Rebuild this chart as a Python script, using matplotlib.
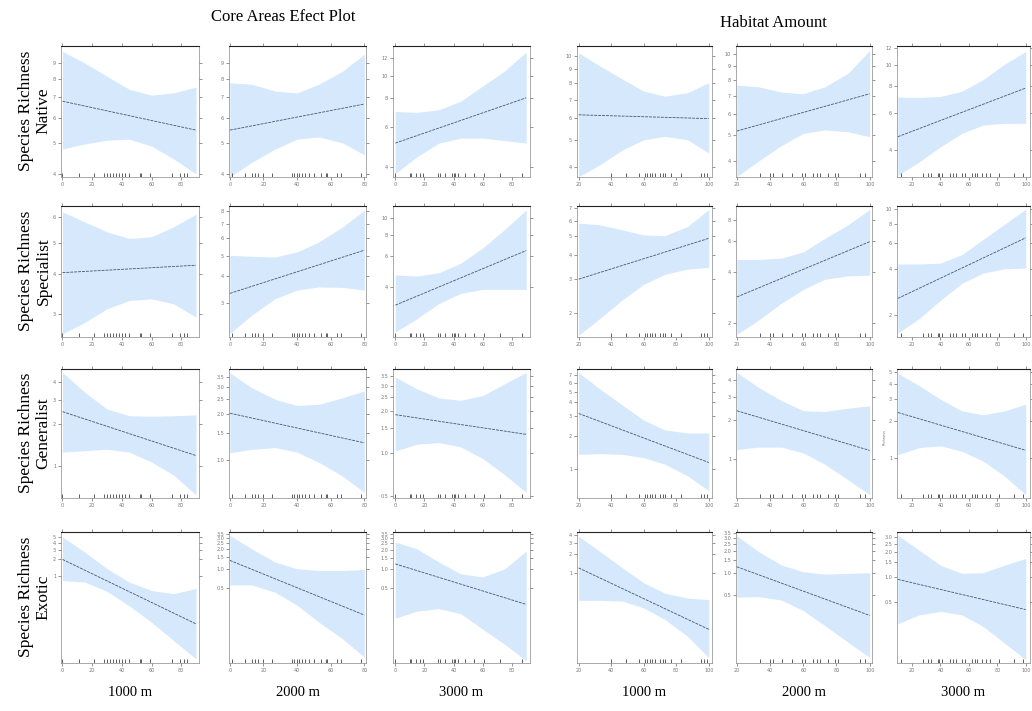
import numpy as np
import matplotlib
matplotlib.use('Agg')
import matplotlib.pyplot as plt
from matplotlib.ticker import NullLocator, FixedLocator, FixedFormatter

# ---------------- data ----------------
ROW_NAMES = ["Species Richness\nNative", "Species Richness\nSpecialist",
             "Species Richness\nGeneralist", "Species Richness\nExotic"]
COL_NAMES = ["1000 m", "2000 m", "3000 m", "1000 m", "2000 m", "3000 m"]
GROUP_TITLES = ["Core Areas Efect Plot", "Habitat Amount"]

BAND_X = [[0, 15, 30, 45, 60, 75, 90],
          [0, 13, 27, 40, 53, 67, 80],
          [0, 15, 30, 45, 60, 75, 90],
          [20, 33, 47, 60, 73, 87, 100],
          [20, 33, 47, 60, 73, 87, 100],
          [10, 25, 40, 55, 70, 85, 100]]
XTICKS = [[0, 20, 40, 60, 80], [0, 20, 40, 60, 80], [0, 20, 40, 60, 80],
          [20, 40, 60, 80, 100], [20, 40, 60, 80, 100], [20, 40, 60, 80, 100]]
XLIM = [(-1, 92), (-0.5, 81), (-1.6, 92.6), (19, 102), (19.5, 101.4), (9.4, 103)]
RUG = [[0, 11, 21, 28, 30, 32, 34, 36, 38, 40, 42, 45, 52, 53, 59, 74, 79, 82, 84],
       [1, 9, 13, 15, 17, 20, 25, 37, 38, 40, 41, 43, 45, 47, 50, 54, 57, 58, 64, 66, 78],
       [0, 10, 11, 14, 17, 19, 29, 31, 34, 39, 40, 41, 43, 48, 54, 61, 72, 87],
       [40, 49, 57, 61, 62, 64, 65, 67, 70, 72, 73, 77, 83, 95, 97, 99],
       [34, 40, 42, 47, 53, 59, 61, 66, 68, 70, 75, 79, 81, 94, 97],
       [12, 28, 31, 33, 38, 39, 41, 47, 49, 51, 55, 57, 62, 64, 66, 69, 72, 75, 81, 92, 98]]

# Native
NATIVE_YLIM = [(3.91, 10.2), (3.91, 10.2), (3.63, 13.5), (3.69, 10.9), (3.49, 10.7), (3.0, 12.3)]
NATIVE_YTICKS = [[4, 5, 6, 7, 8, 9], [4, 5, 6, 7, 8, 9], [4, 6, 8, 10, 12],
                 [4, 5, 6, 7, 8, 9, 10], [4, 5, 6, 7, 8, 9, 10], [4, 6, 8, 10, 12]]
NATIVE_FIT = [(6.81, 5.51), (5.51, 6.67), (5.10, 8.03), (6.17, 5.98), (5.17, 7.11), (4.63, 7.82)]
NATIVE_UPPER = [[9.8, 9.0, 8.17, 7.43, 7.12, 7.24, 7.55],
                [7.79, 7.71, 7.33, 7.24, 7.71, 8.48, 9.6],
                [7.0, 6.94, 7.13, 7.76, 9.03, 10.5, 12.7],
                [10.3, 9.25, 8.28, 7.51, 7.2, 7.41, 8.05],
                [7.66, 7.55, 7.21, 7.11, 7.55, 8.48, 10.3],
                [7.09, 7.07, 7.14, 7.55, 8.56, 10.1, 11.6]]
NATIVE_LOWER = [[4.8, 4.98, 5.12, 5.16, 4.9, 4.46, 4.0],
                [3.91, 4.35, 4.8, 5.16, 5.24, 5.02, 4.6],
                [3.76, 4.45, 5.1, 5.36, 5.36, 5.23, 5.1],
                [3.70, 4.08, 4.62, 5.02, 5.16, 5.02, 4.5],
                [3.5, 4.0, 4.57, 5.07, 5.22, 5.14, 4.92],
                [3.05, 3.53, 4.15, 4.8, 5.25, 5.35, 5.35]]

# Specialist
SPEC_YLIM = [(2.54, 6.5), (2.10, 8.47), (2.05, 11.7), (1.51, 7.15), (1.67, 9.6), (1.42, 10.5)]
SPEC_YTICKS = [[3, 4, 5, 6], [3, 4, 5, 6, 7, 8], [4, 6, 8, 10],
               [2, 3, 4, 5, 6, 7], [2, 4, 6, 8], [2, 4, 6, 8, 10]]
SPEC_FIT = [(4.03, 4.25), (3.34, 5.29), (3.13, 6.47), (3.0, 4.87), (2.85, 5.96), (2.56, 6.46)]
SPEC_UPPER = [[6.23, 5.80, 5.40, 5.15, 5.21, 5.60, 6.13],
              [5.01, 4.96, 4.92, 5.20, 5.78, 6.77, 8.09],
              [4.68, 4.61, 4.82, 5.47, 6.69, 8.54, 11.1],
              [5.84, 5.72, 5.38, 5.07, 5.03, 5.61, 6.86],
              [4.70, 4.70, 4.79, 5.20, 6.23, 7.47, 9.17],
              [4.33, 4.33, 4.39, 4.99, 6.30, 7.93, 10.0]]
SPEC_LOWER = [[2.60, 2.82, 3.11, 3.30, 3.34, 3.22, 2.93],
              [2.18, 2.65, 3.16, 3.46, 3.58, 3.56, 3.46],
              [2.19, 2.62, 3.20, 3.66, 3.86, 3.86, 3.86],
              [1.54, 1.88, 2.35, 2.82, 3.18, 3.38, 3.45],
              [1.73, 2.09, 2.63, 3.15, 3.61, 3.78, 3.81],
              [1.51, 1.88, 2.49, 3.22, 3.77, 4.02, 4.07]]

# Generalist
GEN_YLIM = [(0.59, 4.98), (0.56, 3.94), (0.485, 3.92), (0.55, 8.0), (0.51, 4.85), (0.47, 5.29)]
GEN_YTICKS = [[1, 2, 3, 4], [1.0, 1.5, 2.0, 2.5, 3.0, 3.5], [0.5, 1.0, 1.5, 2.0, 2.5, 3.0, 3.5],
              [1, 2, 3, 4, 5, 6, 7], [1, 2, 3, 4], [1, 2, 3, 4, 5]]
GEN_FIT = [(2.46, 1.19), (2.02, 1.29), (1.87, 1.36), (3.18, 1.15), (2.34, 1.17), (2.34, 1.15)]
GEN_UPPER = [[4.72, 3.39, 2.57, 2.30, 2.28, 2.30, 2.33],
             [3.72, 2.97, 2.49, 2.27, 2.31, 2.55, 2.82],
             [3.43, 2.84, 2.45, 2.36, 2.55, 3.08, 3.71],
             [7.43, 5.30, 3.77, 2.77, 2.26, 2.12, 2.12],
             [4.58, 3.52, 2.79, 2.34, 2.31, 2.45, 2.55],
             [4.88, 3.87, 3.0, 2.41, 2.24, 2.41, 2.73]]
GEN_LOWER = [[1.26, 1.29, 1.32, 1.26, 1.07, 0.86, 0.62],
             [1.11, 1.17, 1.20, 1.12, 0.96, 0.78, 0.61],
             [1.04, 1.16, 1.19, 1.11, 0.92, 0.71, 0.53],
             [1.36, 1.38, 1.36, 1.27, 1.11, 0.87, 0.64],
             [1.19, 1.24, 1.24, 1.12, 0.92, 0.70, 0.54],
             [1.06, 1.21, 1.25, 1.13, 0.94, 0.71, 0.50]]

# Exotic
EXO_YLIM = [(0.027, 6.25), (0.034, 3.74), (0.034, 3.78), (0.038, 4.42), (0.057, 3.65), (0.09, 3.49)]
EXO_YTICKS = [[1, 2, 3, 4, 5], [0.5, 1.0, 1.5, 2.0, 2.5, 3.0, 3.5], [0.5, 1.0, 1.5, 2.0, 2.5, 3.0, 3.5],
              [1, 2, 3, 4], [0.5, 1.0, 1.5, 2.0, 2.5, 3.0, 3.5], [0.5, 1.0, 1.5, 2.0, 2.5, 3.0]]
EXO_FIT = [(2.0, 0.137), (1.35, 0.19), (1.2, 0.28), (1.2, 0.129), (1.21, 0.258), (0.93, 0.40)]
EXO_UPPER = [[5.08, 2.72, 1.36, 0.78, 0.55, 0.48, 0.60],
             [3.31, 2.05, 1.27, 1.0, 0.94, 0.94, 0.975],
             [2.64, 2.05, 1.28, 0.84, 0.75, 1.0, 1.91],
             [3.78, 2.19, 1.2, 0.70, 0.48, 0.40, 0.38],
             [3.24, 1.96, 1.28, 1.03, 0.96, 0.98, 1.0],
             [3.18, 2.10, 1.38, 1.10, 1.12, 1.38, 1.67]]
EXO_LOWER = [[0.83, 0.78, 0.53, 0.29, 0.147, 0.068, 0.032],
             [0.56, 0.56, 0.43, 0.27, 0.147, 0.081, 0.042],
             [0.17, 0.22, 0.24, 0.20, 0.115, 0.067, 0.037],
             [0.37, 0.37, 0.36, 0.28, 0.185, 0.10, 0.046],
             [0.46, 0.47, 0.42, 0.30, 0.187, 0.11, 0.068],
             [0.27, 0.345, 0.38, 0.345, 0.25, 0.157, 0.099]]

ROWS = [
    (NATIVE_YLIM, NATIVE_YTICKS, NATIVE_FIT, NATIVE_UPPER, NATIVE_LOWER),
    (SPEC_YLIM, SPEC_YTICKS, SPEC_FIT, SPEC_UPPER, SPEC_LOWER),
    (GEN_YLIM, GEN_YTICKS, GEN_FIT, GEN_UPPER, GEN_LOWER),
    (EXO_YLIM, EXO_YTICKS, EXO_FIT, EXO_UPPER, EXO_LOWER),
]

# ---------------- layout ----------------
W, H = 1032, 711
COL_PX = [(61, 199), (229, 366), (393, 530), (577, 712), (736, 872), (897, 1030)]
ROW_PX = [(46, 177), (206, 337), (369, 498), (532, 663)]
ROW_LABEL_Y = [111, 271, 433, 597]

SERIF = ['Liberation Serif', 'DejaVu Serif']
BAND_COLOR = '#d6e8fb'
LINE_COLOR = '#3f5878'

fig = plt.figure(figsize=(W / 100, H / 100), dpi=100)


def fmt(v, ticks):
    if any(abs(t - round(t)) > 1e-9 for t in ticks):
        return '%.1f' % v
    return '%d' % v


for r, (ylims, yticks, fits, uppers, lowers) in enumerate(ROWS):
    t, b = ROW_PX[r]
    for c in range(6):
        l, rr = COL_PX[c]
        ax = fig.add_axes([l / W, 1 - b / H, (rr - l) / W, (b - t) / H])
        ax.set_yscale('log')
        ax.fill_between(BAND_X[c], lowers[c], uppers[c], color=BAND_COLOR, lw=0, zorder=1)
        ax.plot([BAND_X[c][0], BAND_X[c][-1]], fits[c], color=LINE_COLOR, lw=0.6,
                ls=(0, (3.5, 1.2)), zorder=3)
        ax.vlines(RUG[c], 0, 0.03, transform=ax.get_xaxis_transform(),
                  color='#333333', lw=0.55, zorder=4)
        ax.set_xlim(*XLIM[c])
        ax.set_ylim(*ylims[c])
        ax.yaxis.set_major_locator(FixedLocator(yticks[c]))
        ax.yaxis.set_major_formatter(FixedFormatter([fmt(v, yticks[c]) for v in yticks[c]]))
        ax.yaxis.set_minor_locator(NullLocator())
        ax.set_xticks(XTICKS[c])
        ax.tick_params(axis='both', which='major', labelsize=3.5, labelcolor='#777777',
                       color='#444444', length=2, width=0.4, pad=1.5,
                       top=True, right=True)
        for side, sp in ax.spines.items():
            sp.set_linewidth(0.5)
            sp.set_color('#888888')
        ax.spines['top'].set_color('#222222')
        ax.spines['top'].set_linewidth(0.8)

# small axis label inside Generalist 3000 m habitat panel
fig.text(885 / W, 1 - 437 / H, 'Richness', rotation=90, fontsize=2.6,
         color='#777777', ha='center', va='center')

# row labels
for r, name in enumerate(ROW_NAMES):
    fig.text(35 / W, 1 - ROW_LABEL_Y[r] / H, name, rotation=90, ha='center', va='center',
             fontsize=12.5, family=SERIF, linespacing=1.1, multialignment='center')

# column labels
for c, name in enumerate(COL_NAMES):
    l, rr = COL_PX[c]
    fig.text((l + rr) / 2 / W, 1 - 692 / H, name, ha='center', va='center',
             fontsize=10.5, family=SERIF)

# group titles
fig.text(283 / W, 1 - 17 / H, GROUP_TITLES[0], ha='center', va='center',
         fontsize=12, family=SERIF)
fig.text(773 / W, 1 - 23 / H, GROUP_TITLES[1], ha='center', va='center',
         fontsize=12, family=SERIF)

fig.savefig('out.png', dpi=100, facecolor='white')
